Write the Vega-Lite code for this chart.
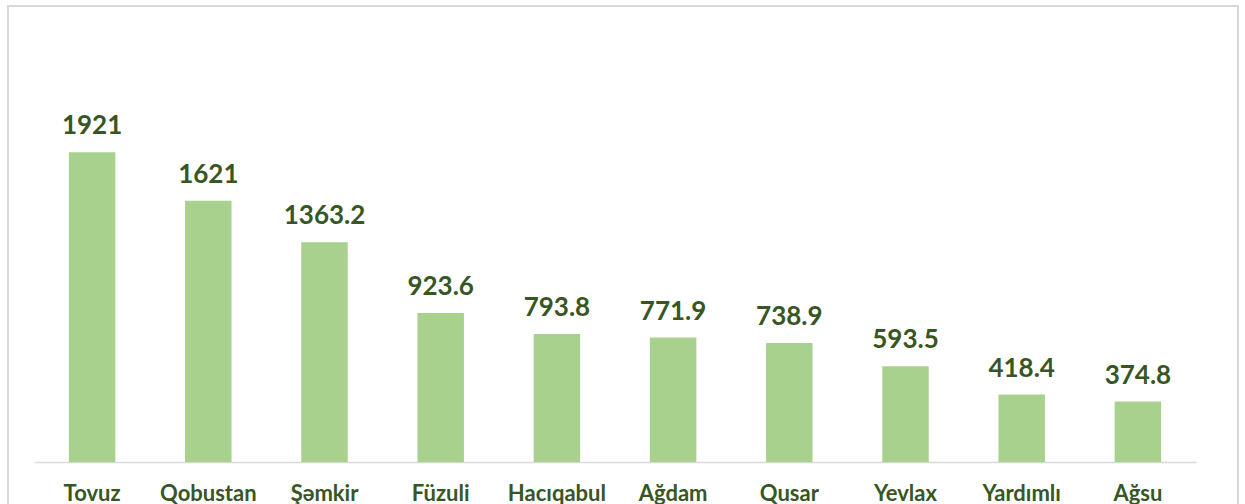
{
  "$schema": "https://vega.github.io/schema/vega-lite/v6.json",
  "autosize": {"type": "none"},
  "padding": {"left": 8, "top": 6, "right": 7, "bottom": 0},
  "width": 1230,
  "height": 520,
  "background": "white",
  "config": {
    "view": {"stroke": "#d9d9d9", "strokeWidth": 2},
    "font": "Lato"
  },
  "data": {
    "values": [
      {"region": "Tovuz", "value": 1921, "label": "1921"},
      {"region": "Qobustan", "value": 1621, "label": "1621"},
      {"region": "Şəmkir", "value": 1363.2, "label": "1363.2"},
      {"region": "Füzuli", "value": 923.6, "label": "923.6"},
      {"region": "Hacıqabul", "value": 793.8, "label": "793.8"},
      {"region": "Ağdam", "value": 771.9, "label": "771.9"},
      {"region": "Qusar", "value": 738.9, "label": "738.9"},
      {"region": "Yevlax", "value": 593.5, "label": "593.5"},
      {"region": "Yardımlı", "value": 418.4, "label": "418.4"},
      {"region": "Ağsu", "value": 374.8, "label": "374.8"}
    ]
  },
  "encoding": {
    "x": {
      "field": "region",
      "type": "nominal",
      "sort": null,
      "scale": {"range": [26, 1188], "paddingInner": 0.6, "paddingOuter": 0.3},
      "axis": {
        "title": null,
        "orient": "bottom",
        "offset": -64,
        "domainColor": "#d9d9d9",
        "domainWidth": 1.5,
        "ticks": false,
        "tickSize": 0,
        "labelAngle": 0,
        "labelFont": "Lato",
        "labelFontWeight": "bold",
        "labelFontSize": 22,
        "labelColor": "#375623",
        "labelBaseline": "alphabetic",
        "labelPadding": 38,
        "grid": false
      }
    },
    "y": {
      "field": "value",
      "type": "quantitative",
      "scale": {"domain": [0, 2500], "range": [456, 53], "nice": false, "zero": true},
      "axis": null
    }
  },
  "layer": [
    {"mark": {"type": "bar", "color": "#a9d18e"}},
    {
      "mark": {
        "type": "text",
        "baseline": "alphabetic",
        "dy": -18,
        "font": "Lato",
        "fontWeight": "bold",
        "fontSize": 26,
        "color": "#375623"
      },
      "encoding": {"text": {"field": "label", "type": "nominal"}}
    }
  ]
}
